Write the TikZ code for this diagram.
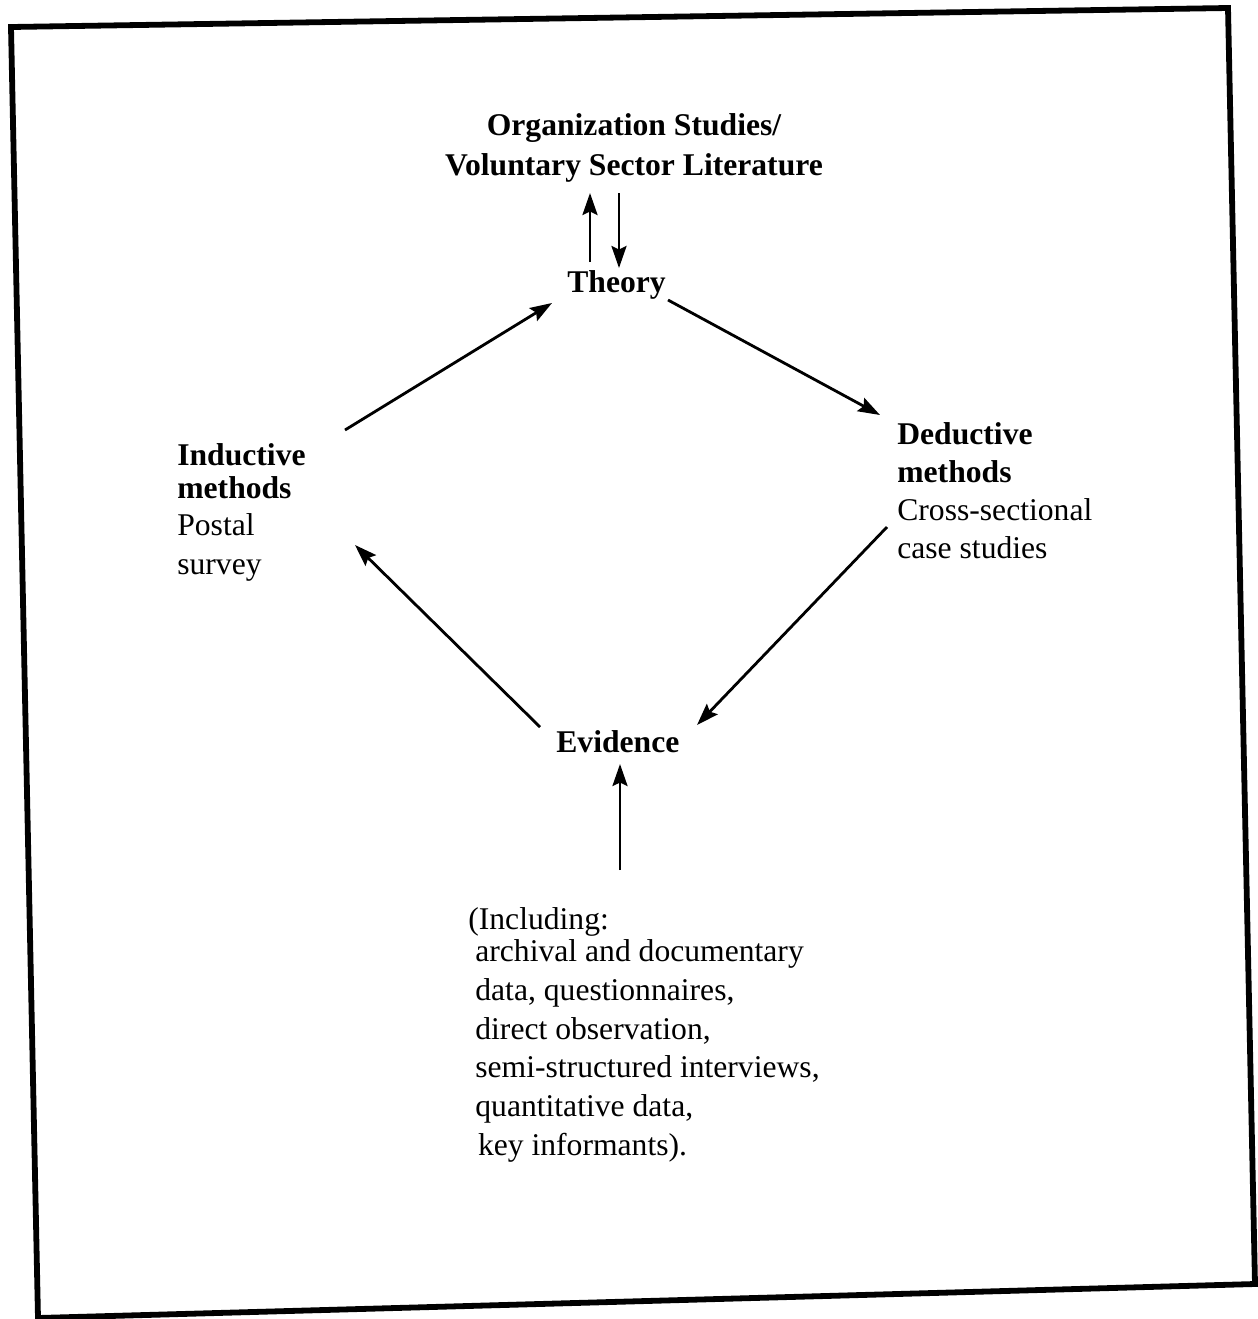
\documentclass[tikz,border=0pt]{standalone}
\usepackage{fontspec}
\setmainfont{Liberation Serif}
\usetikzlibrary{arrows.meta}
\begin{document}
\begin{tikzpicture}[x=0.02cm,y=-0.02cm,
  lbl/.style={inner sep=0pt,font=\fontsize{18}{21.5}\selectfont},
  hd/.style={lbl,font=\fontsize{18}{21.5}\selectfont\bfseries},
  arr/.style={line width=1.6pt,-{Stealth[length=0.44cm,width=0.3cm,inset=0.07cm]}},
  frame/.style={line width=3.3pt,line join=miter}]
\useasboundingbox (0,0) rectangle (1258,1319);
% outer frame (scanned page, slightly skewed)
\draw[frame] (11,27) -- (1228,8) -- (1255,1284) -- (38,1318) -- cycle;

% nodes (multi-line nodes are anchored at the baseline of their last line)
\node[hd,align=center,anchor=base] (lit) at (634,175)
  {Organization Studies/\\[1.2pt]Voluntary Sector Literature};
\node[hd,anchor=base west] (theory) at (567,292) {Theory};
\node[lbl,align=left,anchor=base west] (ind) at (177,574)
  {\textbf{Inductive}\\[-2.5pt]\textbf{methods}\\[-0.5pt]Postal\\[0.5pt]survey};
\node[lbl,align=left,anchor=base west] (ded) at (897,558)
  {\textbf{Deductive}\\\textbf{methods}\\Cross-sectional\\case studies};
\node[hd,anchor=base west] (evid) at (556,752) {Evidence};
\node[lbl,align=left,anchor=base west] (incl) at (468,1155)
  {(Including:\\[-3pt]
   \hspace{4pt}archival and documentary\\[0.5pt]
   \hspace{4pt}data, questionnaires,\\[0.5pt]
   \hspace{4pt}direct observation,\\[0.5pt]
   \hspace{4pt}semi-structured interviews,\\[0.5pt]
   \hspace{4pt}quantitative data,\\[0.5pt]
   \hspace{5.5pt}key informants).};

% connector end points
\coordinate (lit-s1) at (590,193);
\coordinate (th-n1) at (590,262);
\coordinate (lit-s2) at (619,193);
\coordinate (th-n2) at (619,268);
\coordinate (ind-ne) at (345,430);
\coordinate (th-w) at (552,303);
\coordinate (th-e) at (668,300);
\coordinate (ded-nw) at (880,415);
\coordinate (ded-sw) at (887,527);
\coordinate (ev-ne) at (697,725);
\coordinate (ev-nw) at (540,727);
\coordinate (ind-se) at (355,545);
\coordinate (ev-s) at (620,764);
\coordinate (incl-n) at (620,870);

% connectors
\draw[arr] (th-n1) -- (lit-s1);
\draw[arr] (lit-s2) -- (th-n2);
\draw[arr] (ind-ne) -- (th-w);
\draw[arr] (th-e) -- (ded-nw);
\draw[arr] (ded-sw) -- (ev-ne);
\draw[arr] (ev-nw) -- (ind-se);
\draw[arr] (incl-n) -- (ev-s);
\end{tikzpicture}
\end{document}
